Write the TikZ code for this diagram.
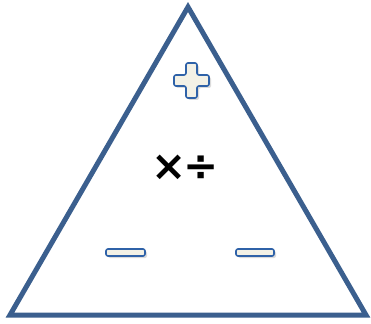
\documentclass[tikz,border=0pt]{standalone}
\usepackage{fontspec}
\setmainfont{DejaVu Sans}
\usetikzlibrary{shadows}
\definecolor{triblue}{HTML}{3B5F8E}
\definecolor{symblue}{HTML}{2F62A8}
\definecolor{symfill}{HTML}{F3F1E6}
\tikzset{
  x=1pt,y=-1pt,
  tri/.style={draw=triblue,line width=5pt,line join=miter},
  sym/.style={draw=symblue,fill=symfill,line width=1.6pt,rounded corners=2pt,
    drop shadow={shadow xshift=2pt,shadow yshift=-2pt,fill=black!35,opacity=0.4}}
}
\begin{document}
\begin{tikzpicture}
\useasboundingbox (0,0) rectangle (371,323);
\coordinate (A) at (188,7);
\coordinate (B) at (10,315);
\coordinate (C) at (366,315);
\draw[tri] (A) -- (B) -- (C) -- cycle;
% plus
\draw[sym] (186,63) -- (197,63) -- (197,75) -- (209,75) -- (209,86) -- (197,86) -- (197,98) -- (186,98) -- (186,86) -- (174,86) -- (174,75) -- (186,75) -- cycle;
% minus
\draw[sym] (106,249) rectangle (145,256);
\draw[sym] (236,249) rectangle (274,256);
\node[font=\bfseries\fontsize{42}{42}\selectfont,inner sep=0pt] (ops) at (185,168) {×\kern-3pt÷};
\end{tikzpicture}
\end{document}
